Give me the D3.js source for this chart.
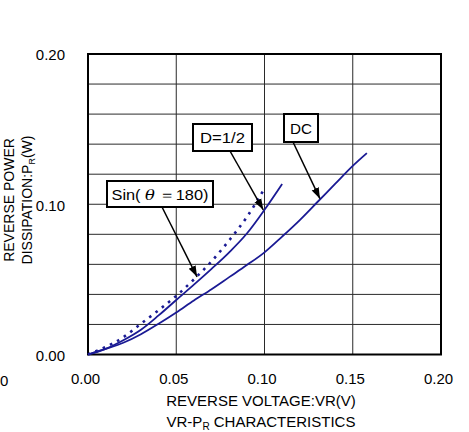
<!DOCTYPE html>
<html>
<head>
<meta charset="utf-8">
<script src="https://cdn.jsdelivr.net/npm/d3@7"></script>
<style>
  body { margin: 0; background: #fff; }
  svg { display: block; font-family: "Liberation Sans", Arial, sans-serif; }
  .tick text { font-size: 15px; fill: #000; }
</style>
</head>
<body>
<div id="chart"></div>
<script>
// curve data (V, W)
const dcX   = [0, 0.01, 0.02, 0.03, 0.04, 0.05, 0.06, 0.07, 0.08, 0.09, 0.10, 0.11, 0.12, 0.13, 0.14, 0.15, 0.158];
const dcY   = [0, 0.0037, 0.0078, 0.0135, 0.0205, 0.028, 0.036, 0.0435, 0.0515, 0.0595, 0.068, 0.0785, 0.0895, 0.1015, 0.1135, 0.1255, 0.134];
const halfX = [0, 0.01, 0.02, 0.03, 0.04, 0.05, 0.06, 0.07, 0.08, 0.09, 0.10, 0.11];
const halfY = [0, 0.0038, 0.0095, 0.0165, 0.026, 0.0363, 0.0465, 0.057, 0.068, 0.0805, 0.0963, 0.1135];
const sinX  = [0, 0.01, 0.02, 0.03, 0.04, 0.05, 0.06, 0.07, 0.08, 0.09, 0.10];
const sinY  = [0, 0.005, 0.0115, 0.0205, 0.0295, 0.039, 0.050, 0.062, 0.076, 0.0915, 0.1105];

const xTicks = [0, 0.05, 0.10, 0.15, 0.20];
const yTicks = [0, 0.10, 0.20];
const yGrid  = [0.02, 0.04, 0.06, 0.08, 0.10, 0.12, 0.14, 0.16, 0.18];
const xGrid  = [0.05, 0.10, 0.15];

// label boxes, with the point each arrow touches (data units)
// parts: [text, italic?]
const notes = [
  {parts: [["Sin( ", false], ["θ", true], [" ＝180)", false]], len: 97, box: [107, 181, 106, 26], from: [162, 207], tip: [0.0618, 0.0517]},
  {parts: [["D=1/2", false]], len: 45, box: [193, 124, 59, 27], from: [230, 151], tip: [0.0993, 0.0963]},
  {parts: [["DC", false]],    len: 22, box: [284, 114, 34, 28], from: [293, 142], tip: [0.1314, 0.1037]}
];

const W = 469, H = 432;
const margin = {top: 54, right: 28, bottom: 77.5, left: 88};
const curveColor = "#1a1a94";

const svg = d3.select("#chart").append("svg")
    .attr("width", W).attr("height", H);

const x = d3.scaleLinear().domain([0, 0.2]).range([margin.left, W - margin.right]);
const y = d3.scaleLinear().domain([0, 0.2]).range([H - margin.bottom, margin.top]);

svg.append("defs").append("marker")
    .attr("id", "arrow")
    .attr("viewBox", "0 0 10 10")
    .attr("refX", 10).attr("refY", 5)
    .attr("markerWidth", 11).attr("markerHeight", 11)
    .attr("markerUnits", "userSpaceOnUse")
    .attr("orient", "auto")
  .append("path")
    .attr("d", "M0,1.5 L10,5 L0,8.5 z")
    .attr("fill", "#000");

// grid
svg.append("g").selectAll("line").data(yGrid).join("line")
    .attr("x1", x(0)).attr("x2", x(0.2))
    .attr("y1", d => y(d)).attr("y2", d => y(d))
    .attr("stroke", "#2a2a2a").attr("stroke-width", 1);
svg.append("g").selectAll("line").data(xGrid).join("line")
    .attr("y1", y(0)).attr("y2", y(0.2))
    .attr("x1", d => x(d)).attr("x2", d => x(d))
    .attr("stroke", "#2a2a2a").attr("stroke-width", 1);

// frame
svg.append("rect")
    .attr("x", x(0)).attr("y", y(0.2))
    .attr("width", x(0.2) - x(0)).attr("height", y(0) - y(0.2))
    .attr("fill", "none").attr("stroke", "#000").attr("stroke-width", 2);

// axes (labels only)
svg.append("g")
    .attr("transform", `translate(-3,${y(0) + 16})`)
    .call(d3.axisBottom(x).tickValues(xTicks).tickFormat(d3.format(".2f")).tickSize(0))
    .call(g => g.select(".domain").remove());
svg.append("g")
    .attr("transform", `translate(${x(0) - 20},1)`)
    .call(d3.axisLeft(y).tickValues(yTicks).tickFormat(d3.format(".2f")).tickSize(0))
    .call(g => g.select(".domain").remove());

// curves
const line = d3.line().x(d => x(d[0])).y(d => y(d[1])).curve(d3.curveMonotoneX);
svg.append("path")
    .datum(d3.zip(dcX, dcY))
    .attr("fill", "none").attr("stroke", curveColor).attr("stroke-width", 1.8)
    .attr("d", line);
svg.append("path")
    .datum(d3.zip(halfX, halfY))
    .attr("fill", "none").attr("stroke", curveColor).attr("stroke-width", 1.8)
    .attr("d", line);
svg.append("path")
    .datum(d3.zip(sinX, sinY))
    .attr("fill", "none").attr("stroke", curveColor).attr("stroke-width", 2.6)
    .attr("stroke-dasharray", "2.6,5.4")
    .attr("d", line);

// annotations
notes.forEach(n => {
    svg.append("line")
        .attr("x1", n.from[0]).attr("y1", n.from[1])
        .attr("x2", x(n.tip[0])).attr("y2", y(n.tip[1]))
        .attr("stroke", "#000").attr("stroke-width", 1.5)
        .attr("marker-end", "url(#arrow)");
    svg.append("rect")
        .attr("x", n.box[0]).attr("y", n.box[1])
        .attr("width", n.box[2]).attr("height", n.box[3])
        .attr("fill", "#fff").attr("stroke", "#000").attr("stroke-width", 2);
    const t = svg.append("text")
        .attr("x", n.box[0] + n.box[2] / 2).attr("y", n.box[1] + n.box[3] / 2 + 5.5)
        .attr("text-anchor", "middle").attr("font-size", 15)
        .attr("textLength", n.len).attr("lengthAdjust", "spacingAndGlyphs");
    n.parts.forEach(p => {
        const s = t.append("tspan").text(p[0]);
        if (p[1]) s.attr("font-style", "italic").attr("font-family", "'DejaVu Serif', serif");
    });
});

// axis titles
svg.append("text")
    .attr("x", 261).attr("y", 406)
    .attr("text-anchor", "middle").attr("font-size", 15)
    .text("REVERSE VOLTAGE:VR(V)");
const cap = svg.append("text")
    .attr("x", 261).attr("y", 427)
    .attr("text-anchor", "middle").attr("font-size", 15);
cap.append("tspan").text("VR-P");
cap.append("tspan").attr("font-size", 10).attr("dy", 3).text("R");
cap.append("tspan").attr("dy", -3).text(" CHARACTERISTICS");

const yt = svg.append("g").attr("transform", "translate(0,200) rotate(-90)");
yt.append("text")
    .attr("x", 0).attr("y", 14)
    .attr("text-anchor", "middle").attr("font-size", 14)
    .text("REVERSE POWER");
const yt2 = yt.append("text")
    .attr("x", 0).attr("y", 32)
    .attr("text-anchor", "middle").attr("font-size", 14);
yt2.append("tspan").text("DISSIPATION:P");
yt2.append("tspan").attr("font-size", 9).attr("dy", 3).text("R");
yt2.append("tspan").attr("dy", -3).text("(W)");

// stray label at the left edge
svg.append("text")
    .attr("x", 0).attr("y", 386)
    .attr("font-size", 15)
    .text("0");
</script>
</body>
</html>
